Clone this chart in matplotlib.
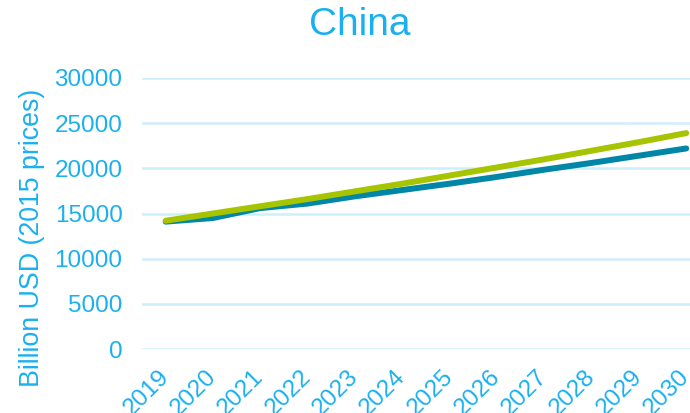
import matplotlib
matplotlib.use("Agg")
import matplotlib.pyplot as plt
from matplotlib.transforms import ScaledTranslation

years = ["2019", "2020", "2021", "2022", "2023", "2024", "2025", "2026", "2027", "2028", "2029", "2030"]
series_blue = [14100, 14500, 15600, 16100, 16900, 17600, 18300, 19050, 19850, 20600, 21400, 22200]
series_green = [14200, 15000, 15800, 16600, 17450, 18300, 19200, 20100, 21000, 21950, 22900, 23900]
yticks = [0, 5000, 10000, 15000, 20000, 25000, 30000]

plt.rcParams['font.family'] = ['Liberation Sans', 'DejaVu Sans']
txt = '#1AB0F0'
fig = plt.figure(figsize=(6.9, 4.13), dpi=100)
ax = fig.add_axes([142/690, 1-349/413, 1-142/690, (349-78)/413])
x = list(range(len(years)))
ax.plot(x, series_blue, color='#0087A8', lw=4.3, solid_capstyle='round', zorder=3)
ax.plot(x, series_green, color='#A6C400', lw=4.3, solid_capstyle='round', zorder=4)
ax.set_ylim(0, 30000)
ax.set_xlim(-0.5, 11.08)
ax.set_yticks(yticks)
ax.set_yticklabels([str(v) for v in yticks])
ax.set_xticks(x)
ax.set_xticklabels(years, rotation=45, ha='right', rotation_mode='anchor')
ax.tick_params(axis='both', length=0, labelcolor=txt, labelsize=17.5)
ax.tick_params(axis='y', pad=14)
ax.tick_params(axis='x', pad=12)
off = ScaledTranslation(-8/100, 0, fig.dpi_scale_trans)
for lab in ax.get_xticklabels():
    lab.set_transform(lab.get_transform() + off)
for s in ax.spines.values():
    s.set_visible(False)
ax.grid(axis='y', color='#CDEEFB', lw=1.8)
ax.set_axisbelow(True)
ax.set_ylabel('Billion USD (2015 prices)', color=txt, fontsize=19.3)
ax.yaxis.set_label_coords(-0.177, 0.41)
fig.text(0.522, 0.94, 'China', color=txt, fontsize=28, ha='center', va='center')
fig.savefig('out.png', dpi=100)
